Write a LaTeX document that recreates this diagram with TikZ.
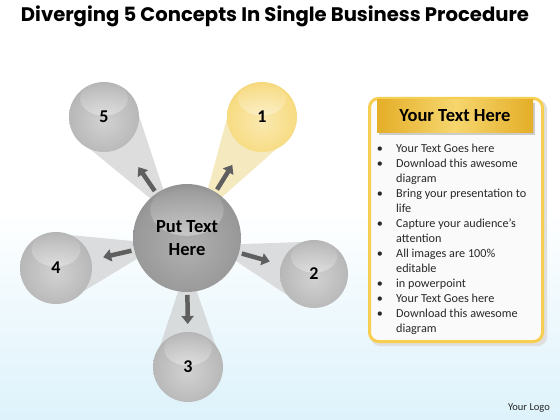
\documentclass[tikz,border=0pt]{standalone}
\usepackage{fontspec}
\setmainfont{Carlito}
\newfontfamily\titlefont{Poppins}
\usetikzlibrary{calc,arrows.meta,fadings}
\definecolor{bgblue}{RGB}{221,242,251}
\definecolor{gold}{RGB}{228,174,40}
\definecolor{lightgold}{RGB}{246,214,110}
\definecolor{rimgold}{RGB}{246,206,80}
\definecolor{beamgold}{RGB}{244,230,180}
\definecolor{arrowgray}{RGB}{95,95,95}
\definecolor{textgray}{RGB}{40,40,40}
\pgfdeclareradialshading{spheregray}{\pgfpoint{0bp}{-4bp}}{color(0bp)=(gray!36); color(24bp)=(gray!55); color(42bp)=(gray!74); color(50bp)=(gray!100)}
\pgfdeclareradialshading{spheredark}{\pgfpoint{0bp}{-4bp}}{color(0bp)=(gray!62); color(24bp)=(gray!80); color(42bp)=(gray!85!black); color(50bp)=(black!80)}
\pgfdeclareradialshading{spheregold}{\pgfpoint{0bp}{-4bp}}{color(0bp)=(lightgold!55); color(24bp)=(lightgold!85); color(42bp)=(lightgold!50!gold); color(50bp)=(gold)}
\pgfdeclarelayer{bg}
\pgfdeclarelayer{beams}
\pgfsetlayers{bg,beams,main}
\tikzset{
  ball/.style={circle, inner sep=0pt, minimum size=#1, text=black,
    font=\bfseries\fontsize{18}{18}\selectfont,
    path picture={\fill[white, path fading=north, opacity=0.7]
      ($(path picture bounding box.center)!0.52!(path picture bounding box.north)$) ellipse ({0.34*#1 pt} and {0.24*#1 pt});}},
  grayball/.style={ball=#1, shading=spheregray},
  goldball/.style={ball=#1, shading=spheregold},
  beam/.style={fill=gray!38, opacity=0.7},
  arr/.style={line width=4.5pt, arrowgray, -{Triangle[length=8pt,width=12pt]}},
  bullettext/.style={anchor=base west, inner sep=0pt, text=textgray, font=\fontsize{12.2}{14}\selectfont}
}
\begin{document}
\begin{tikzpicture}[x=1pt,y=-1pt]
\begin{pgfonlayer}{bg}
\shade[top color=bgblue, bottom color=white, middle color=white, shading angle=180] (0,0) rectangle (560,420);
\end{pgfonlayer}
\useasboundingbox (0,0) rectangle (560,420);

\node (title) at (275,16) {\titlefont\bfseries\fontsize{19.6}{20}\selectfont Diverging 5 Concepts In Single Business Procedure};

% spheres
\node[ball=108, shading=spheredark, font=\bfseries\fontsize{18.5}{23}\selectfont, align=center] (ctr) at (187,238) {Put Text\\Here};
\node[goldball=70] (n1) at (262,117) {1};
\node[grayball=68] (n2) at (314,274) {2};
\node[grayball=70] (n3) at (188,367) {3};
\node[grayball=72] (n4) at (56,268) {4};
\node[grayball=70] (n5) at (104,117) {5};

\begin{pgfonlayer}{beams}
\foreach \n/\r in {2/34,3/35,4/36,5/35}
  \fill[beam] ($(ctr)!26pt!(n\n)$) -- ($(n\n)!\r pt!90:(ctr)$) -- ($(n\n)!\r pt!-90:(ctr)$) -- cycle;
\fill[beam, fill=beamgold, opacity=0.85] ($(ctr)!26pt!(n1)$) -- ($(n1)!35pt!90:(ctr)$) -- ($(n1)!35pt!-90:(ctr)$) -- cycle;
\end{pgfonlayer}

\foreach \n in {1,...,5}
  \draw[arr] ($(ctr)!57pt!(n\n)$) -- ($(ctr)!86pt!(n\n)$);

% text panel
\fill[gray!25, rounded corners=9pt] (371,100) rectangle (547,346);
\node[draw=rimgold, line width=3pt, fill=white!96!gray, rounded corners=9pt, minimum width=173pt, minimum height=243pt] (panel) at (456,220) {};
\fill[gray!40] (379,103) rectangle (535,135);
\node[left color=gold, right color=gold, middle color=lightgold, minimum width=156pt, minimum height=32pt, inner sep=0pt,
  font=\bfseries\fontsize{18.5}{18}\selectfont] (head) at (455,116) {Your Text Here};

\foreach \t [count=\i from 0] in {Your Text Goes here, Download this awesome, diagram,
    Bring your presentation to, life, Capture your audience’s, attention,
    All images are 100\%, editable, in powerpoint, Your Text Goes here,
    Download this awesome, diagram}
  \node[bullettext] (line\i) at (396,152+15*\i) {\t};
\foreach \i in {0,1,3,5,7,9,10,11}
  \node[bullettext, anchor=base] (dot\i) at (380,152+15*\i) {•};

\node[text=textgray, font=\fontsize{10.5}{10}\selectfont] (logo) at (529,408) {Your Logo};
\end{tikzpicture}
\end{document}
